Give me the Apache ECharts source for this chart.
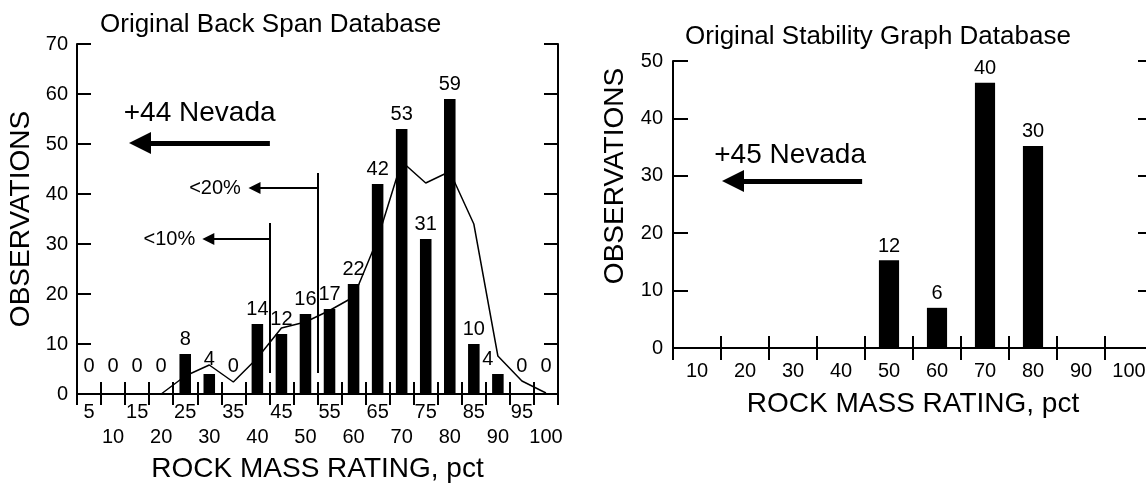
<!DOCTYPE html>
<html>
<head>
<meta charset="utf-8">
<script src="https://cdn.jsdelivr.net/npm/echarts@6/dist/echarts.min.js"></script>
<style>
  html, body { margin: 0; padding: 0; background: #fff; }
  #chart { width: 1146px; height: 485px; }
</style>
</head>
<body>
<div id="chart"></div>
<script>
// ---------- DATA ----------
const leftCategories = ['5','10','15','20','25','30','35','40','45','50','55','60','65','70','75','80','85','90','95','100'];
const leftCounts = [0,0,0,0,8,4,0,14,12,16,17,22,42,53,31,59,10,4,0,0];
const leftCurve = [null,null,null,0,3.6,5.8,2.4,7.2,13.2,14.4,16.7,19.4,31,46.5,42.2,44.5,34,7.6,2.6,0.2];
const leftYTicks = [0,10,20,30,40,50,60,70];

const rightCategories = ['10','20','30','40','50','60','70','80','90','100'];
const rightBars = [null,null,null,null,15.3,7.0,46.2,35.2,null,null];
const rightLabels = ['','','','','12','6','40','30','',''];
const rightYTicks = [0,10,20,30,40,50];

const titles = ['Original Back Span Database', 'Original Stability Graph Database'];
const xName = 'ROCK MASS RATING, pct';
const yName = 'OBSERVATIONS';

// annotation texts and their data-space anchors (x in RMR, y in observations)
const leftNotes = ['+44 Nevada', '<20%', '<10%'];
const leftNoteX = [28, 31.2, 21.7];
const leftNoteY = [56.2, 41.2, 31];
const rightNotes = ['+45 Nevada'];
const rightNoteX = [29.4];
const rightNoteY = [33.6];

// ---------- CHART ----------
const FONT = '"Liberation Sans", Arial, Helvetica, sans-serif';
const BLACK = '#000';
const chart = echarts.init(document.getElementById('chart'), null, { renderer: 'canvas' });

const axisLine = { show: true, lineStyle: { color: BLACK, width: 2 } };
const solid = (w) => ({ width: w, color: BLACK, type: 'solid' });

function leftBarData() {
  return leftCounts.map((v, i) => {
    if (v === 0) return { value: v, label: { distance: 18 } };
    if (i === 17) return { value: v, label: { offset: [-10, 0] } };
    return v;
  });
}

const noteLabel = {
  show: true, position: 'inside', color: BLACK, fontFamily: FONT,
  textBorderWidth: 0, textShadowBlur: 0, opacity: 1
};

const option = {
  animation: false,
  backgroundColor: '#fff',
  textStyle: { fontFamily: FONT, color: BLACK },
  title: [
    { text: titles[0], left: 100, top: 12, padding: 0,
      textStyle: { fontFamily: FONT, fontSize: 26, fontWeight: 'normal', color: BLACK } },
    { text: titles[1], left: 685, top: 24, padding: 0,
      textStyle: { fontFamily: FONT, fontSize: 26, fontWeight: 'normal', color: BLACK } }
  ],
  graphic: [
    { type: 'text', x: 21, y: 219, rotation: Math.PI / 2,
      style: { text: yName, font: '28px ' + FONT, fill: BLACK, align: 'center', verticalAlign: 'middle' } },
    { type: 'text', x: 615, y: 176, rotation: Math.PI / 2,
      style: { text: yName, font: '28px ' + FONT, fill: BLACK, align: 'center', verticalAlign: 'middle' } }
  ],
  grid: [
    { left: 77, top: 44, width: 481, height: 350, containLabel: false, outerBoundsMode: 'none' },
    { left: 673, top: 61, width: 480, height: 287, containLabel: false, outerBoundsMode: 'none' }
  ],
  xAxis: [
    { // 0: left bottom
      type: 'category', gridIndex: 0, data: leftCategories, position: 'bottom',
      axisLine: axisLine,
      axisTick: { show: true, inside: true, length: 12, interval: 0, lineStyle: { color: BLACK, width: 2 } },
      axisLabel: { interval: 0, fontSize: 20, color: BLACK, fontFamily: FONT, margin: 6, lineHeight: 25,
        hideOverlap: false, formatter: (v, i) => (i % 2 === 0 ? v : '\n' + v) },
      name: xName, nameLocation: 'middle', nameGap: 60,
      nameTextStyle: { fontSize: 28, color: BLACK, fontFamily: FONT }
    },
    { // 1: left top
      type: 'category', gridIndex: 0, data: leftCategories, position: 'top',
      axisLine: axisLine,
      axisTick: { show: true, inside: true, length: 11, interval: 0, lineStyle: { color: BLACK, width: 2 } },
      axisLabel: { show: false }
    },
    { // 2: left hidden value axis for annotations
      type: 'value', gridIndex: 0, min: 2.5, max: 102.5, show: false
    },
    { // 3: right bottom
      type: 'category', gridIndex: 1, data: rightCategories, position: 'bottom',
      axisLine: axisLine,
      axisTick: { show: true, inside: true, length: 12, interval: 0, lineStyle: { color: BLACK, width: 2 } },
      axisLabel: { interval: 0, fontSize: 20, color: BLACK, fontFamily: FONT, margin: 13, lineHeight: 20 },
      name: xName, nameLocation: 'middle', nameGap: 42,
      nameTextStyle: { fontSize: 28, color: BLACK, fontFamily: FONT }
    },
    { // 4: right top
      type: 'category', gridIndex: 1, data: rightCategories, position: 'top',
      axisLine: axisLine,
      axisTick: { show: true, inside: true, length: 12, interval: 0, lineStyle: { color: BLACK, width: 2 } },
      axisLabel: { show: false }
    },
    { // 5: right hidden value axis
      type: 'value', gridIndex: 1, min: 5, max: 105, show: false
    }
  ],
  yAxis: [
    { // 0: left left
      type: 'value', gridIndex: 0, min: leftYTicks[0], max: leftYTicks[leftYTicks.length - 1], interval: 10,
      position: 'left', axisLine: axisLine, splitLine: { show: false },
      axisTick: { show: true, inside: true, length: 14, lineStyle: { color: BLACK, width: 2 } },
      axisLabel: { fontSize: 20, color: BLACK, fontFamily: FONT, margin: 9 }
    },
    { // 1: left right
      type: 'value', gridIndex: 0, min: leftYTicks[0], max: leftYTicks[leftYTicks.length - 1], interval: 10,
      position: 'right', axisLine: axisLine, splitLine: { show: false },
      axisTick: { show: true, inside: true, length: 14, lineStyle: { color: BLACK, width: 2 } },
      axisLabel: { show: false }
    },
    { // 2: right left
      type: 'value', gridIndex: 1, min: rightYTicks[0], max: rightYTicks[rightYTicks.length - 1], interval: 10,
      position: 'left', axisLine: axisLine, splitLine: { show: false },
      axisTick: { show: true, inside: true, length: 15, lineStyle: { color: BLACK, width: 2 } },
      axisLabel: { fontSize: 20, color: BLACK, fontFamily: FONT, margin: 10 }
    },
    { // 3: right right
      type: 'value', gridIndex: 1, min: rightYTicks[0], max: rightYTicks[rightYTicks.length - 1], interval: 10,
      position: 'right', axisLine: axisLine, splitLine: { show: false },
      axisTick: { show: true, inside: true, length: 15, lineStyle: { color: BLACK, width: 2 } },
      axisLabel: { show: false }
    }
  ],
  series: [
    {
      type: 'line', xAxisIndex: 0, yAxisIndex: 0, data: leftCurve, z: 1,
      symbol: 'none', connectNulls: false,
      lineStyle: { color: BLACK, width: 1.5 }
    },
    {
      type: 'bar', xAxisIndex: 0, yAxisIndex: 0, data: leftBarData(), z: 2,
      barWidth: '48%', itemStyle: { color: BLACK },
      label: { show: true, position: 'top', distance: 5, fontSize: 20, color: BLACK, fontFamily: FONT }
    },
    {
      type: 'scatter', xAxisIndex: 2, yAxisIndex: 0, z: 3,
      data: leftNotes.map((t, i) => ({
        value: [leftNoteX[i], leftNoteY[i]],
        label: { fontSize: i === 0 ? 28 : 20 }
      })),
      symbolSize: 0,
      label: Object.assign({}, noteLabel, { formatter: p => leftNotes[p.dataIndex] }),
      itemStyle: { color: BLACK, opacity: 1 },
      emphasis: { disabled: true },
      silent: true,
      markLine: {
        silent: true, animation: false,
        label: { show: false },
        emphasis: { disabled: true },
        data: [
          // big arrow
          [{ coord: [42.6, 50.2], symbol: 'none', lineStyle: solid(5) },
           { coord: [15.6, 50.2], symbol: 'triangle', symbolSize: 22 }],
          // <20% vertical and arrow
          [{ coord: [52.5, 44.2], symbol: 'none', lineStyle: solid(2) },
           { coord: [52.5, 4.2], symbol: 'none' }],
          [{ coord: [52.5, 41.2], symbol: 'none', lineStyle: solid(2) },
           { coord: [39.4, 41.2], symbol: 'triangle', symbolSize: 12 }],
          // <10% vertical and arrow
          [{ coord: [42.5, 34.2], symbol: 'none', lineStyle: solid(2) },
           { coord: [42.5, 4.2], symbol: 'none' }],
          [{ coord: [42.5, 31], symbol: 'none', lineStyle: solid(2) },
           { coord: [29.8, 31], symbol: 'triangle', symbolSize: 12 }]
        ]
      }
    },
    {
      type: 'bar', xAxisIndex: 3, yAxisIndex: 2, data: rightBars, z: 2,
      barWidth: '42%', itemStyle: { color: BLACK },
      label: { show: true, position: 'top', distance: 4, fontSize: 20, color: BLACK, fontFamily: FONT,
        formatter: p => rightLabels[p.dataIndex] }
    },
    {
      type: 'scatter', xAxisIndex: 5, yAxisIndex: 2, z: 3,
      data: rightNotes.map((t, i) => [rightNoteX[i], rightNoteY[i]]),
      symbolSize: 0,
      label: Object.assign({}, noteLabel, { fontSize: 28, formatter: p => rightNotes[p.dataIndex] }),
      itemStyle: { color: BLACK, opacity: 1 },
      emphasis: { disabled: true },
      silent: true,
      markLine: {
        silent: true, animation: false,
        label: { show: false },
        emphasis: { disabled: true },
        data: [
          [{ coord: [44.4, 29.1], symbol: 'none', lineStyle: solid(5) },
           { coord: [17.5, 29.1], symbol: 'triangle', symbolSize: 22 }]
        ]
      }
    }
  ]
};

chart.setOption(option);
</script>
</body>
</html>
